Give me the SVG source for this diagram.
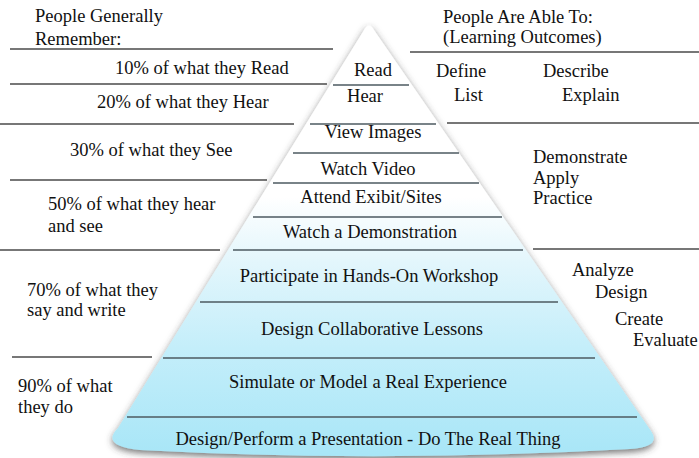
<svg xmlns="http://www.w3.org/2000/svg" width="699" height="458" viewBox="0 0 699 458">
<defs>
<linearGradient id="pyrFill" gradientUnits="userSpaceOnUse" x1="0" y1="24" x2="0" y2="456">
<stop offset="0" stop-color="#ffffff"/>
<stop offset="0.4" stop-color="#ffffff"/>
<stop offset="0.55" stop-color="#e3f6fc"/>
<stop offset="0.75" stop-color="#c4eefa"/>
<stop offset="1" stop-color="#a8e6f7"/>
</linearGradient>
<filter id="shadow" x="-10%" y="-10%" width="120%" height="120%">
<feDropShadow dx="0" dy="3" stdDeviation="3.5" flood-color="#3a3a3a" flood-opacity="0.7"/>
</filter>
<style>
text{font-family:'Liberation Serif','Times New Roman',serif;font-size:18.5px;fill:#111}
.mid{text-anchor:middle}
.out{stroke:#777;stroke-width:2;fill:none}
.inn{stroke:#4c5a60;stroke-width:1.6;fill:none}
</style>
</defs>
<rect width="699" height="458" fill="#ffffff"/>

<g id="separators">
<line class="out" x1="10" y1="49" x2="333" y2="49"/>
<line class="out" x1="10" y1="84" x2="327" y2="84"/>
<line class="out" x1="0" y1="124" x2="294" y2="124"/>
<line class="out" x1="10" y1="180" x2="267" y2="180"/>
<line class="out" x1="0" y1="250" x2="220" y2="250"/>
<line class="out" x1="12" y1="357" x2="152" y2="357"/>
<line class="out" x1="410" y1="52" x2="699" y2="52"/>
<line class="out" x1="447" y1="123" x2="699" y2="123"/>
<line class="out" x1="533" y1="249" x2="699" y2="249"/>
</g>

<g id="pyramid">
<path d="M364,30 Q369,21 374,30 L651,431 Q662,447 630,449 Q380,463 140,450 Q100,446 118,428 Z" fill="url(#pyrFill)" filter="url(#shadow)"/>
</g>

<g id="levels">
<g id="level-read"><text class="mid" x="373" y="76">Read</text></g>
<line class="inn" x1="333" y1="85" x2="409" y2="85"/>
<g id="level-hear"><text class="mid" x="365" y="102">Hear</text></g>
<line class="inn" x1="310" y1="124" x2="436" y2="124"/>
<g id="level-view"><text class="mid" x="373" y="138">View Images</text></g>
<line class="inn" x1="293" y1="153" x2="459" y2="153"/>
<g id="level-video"><text class="mid" x="368" y="175">Watch Video</text></g>
<line class="inn" x1="273" y1="183" x2="479" y2="183"/>
<g id="level-attend"><text class="mid" x="371" y="203">Attend Exibit/Sites</text></g>
<line class="inn" x1="253" y1="217" x2="502" y2="217"/>
<g id="level-demo"><text class="mid" x="370" y="238">Watch a Demonstration</text></g>
<line class="inn" x1="233" y1="250" x2="523" y2="250"/>
<g id="level-workshop"><text class="mid" x="369" y="282">Participate in Hands-On Workshop</text></g>
<line class="inn" x1="200" y1="302" x2="558" y2="302"/>
<g id="level-collab"><text class="mid" x="372" y="335">Design Collaborative Lessons</text></g>
<line class="inn" x1="163" y1="358" x2="595" y2="358"/>
<g id="level-simulate"><text class="mid" x="368" y="388">Simulate or Model a Real Experience</text></g>
<line class="inn" x1="127" y1="417" x2="637" y2="417"/>
<g id="level-present"><text class="mid" x="368" y="445">Design/Perform a Presentation - Do The Real Thing</text></g>
</g>

<g id="remember">
<g id="remember-title"><text x="35" y="22">People Generally</text><text x="35" y="45">Remember:</text></g>
<g id="remember-10"><text x="115" y="74">10% of what they Read</text></g>
<g id="remember-20"><text x="97" y="108">20% of what they Hear</text></g>
<g id="remember-30"><text x="70" y="156">30% of what they See</text></g>
<g id="remember-50"><text x="48" y="210">50% of what they hear</text><text x="48" y="232">and see</text></g>
<g id="remember-70"><text x="27" y="296">70% of what they</text><text x="27" y="316">say and write</text></g>
<g id="remember-90"><text x="18" y="392">90% of what</text><text x="18" y="413">they do</text></g>
</g>

<g id="outcomes">
<g id="outcomes-title"><text x="443" y="23">People Are Able To:</text><text x="443" y="43">(Learning Outcomes)</text></g>
<g id="outcomes-1"><text x="436" y="77">Define</text><text x="543" y="77">Describe</text><text x="454" y="101">List</text><text x="562" y="101">Explain</text></g>
<g id="outcomes-2"><text x="533" y="163">Demonstrate</text><text x="533" y="184">Apply</text><text x="533" y="204">Practice</text></g>
<g id="outcomes-3"><text x="572" y="276">Analyze</text><text x="595" y="298">Design</text><text x="615" y="325">Create</text><text x="633" y="346">Evaluate</text></g>
</g>
</svg>
